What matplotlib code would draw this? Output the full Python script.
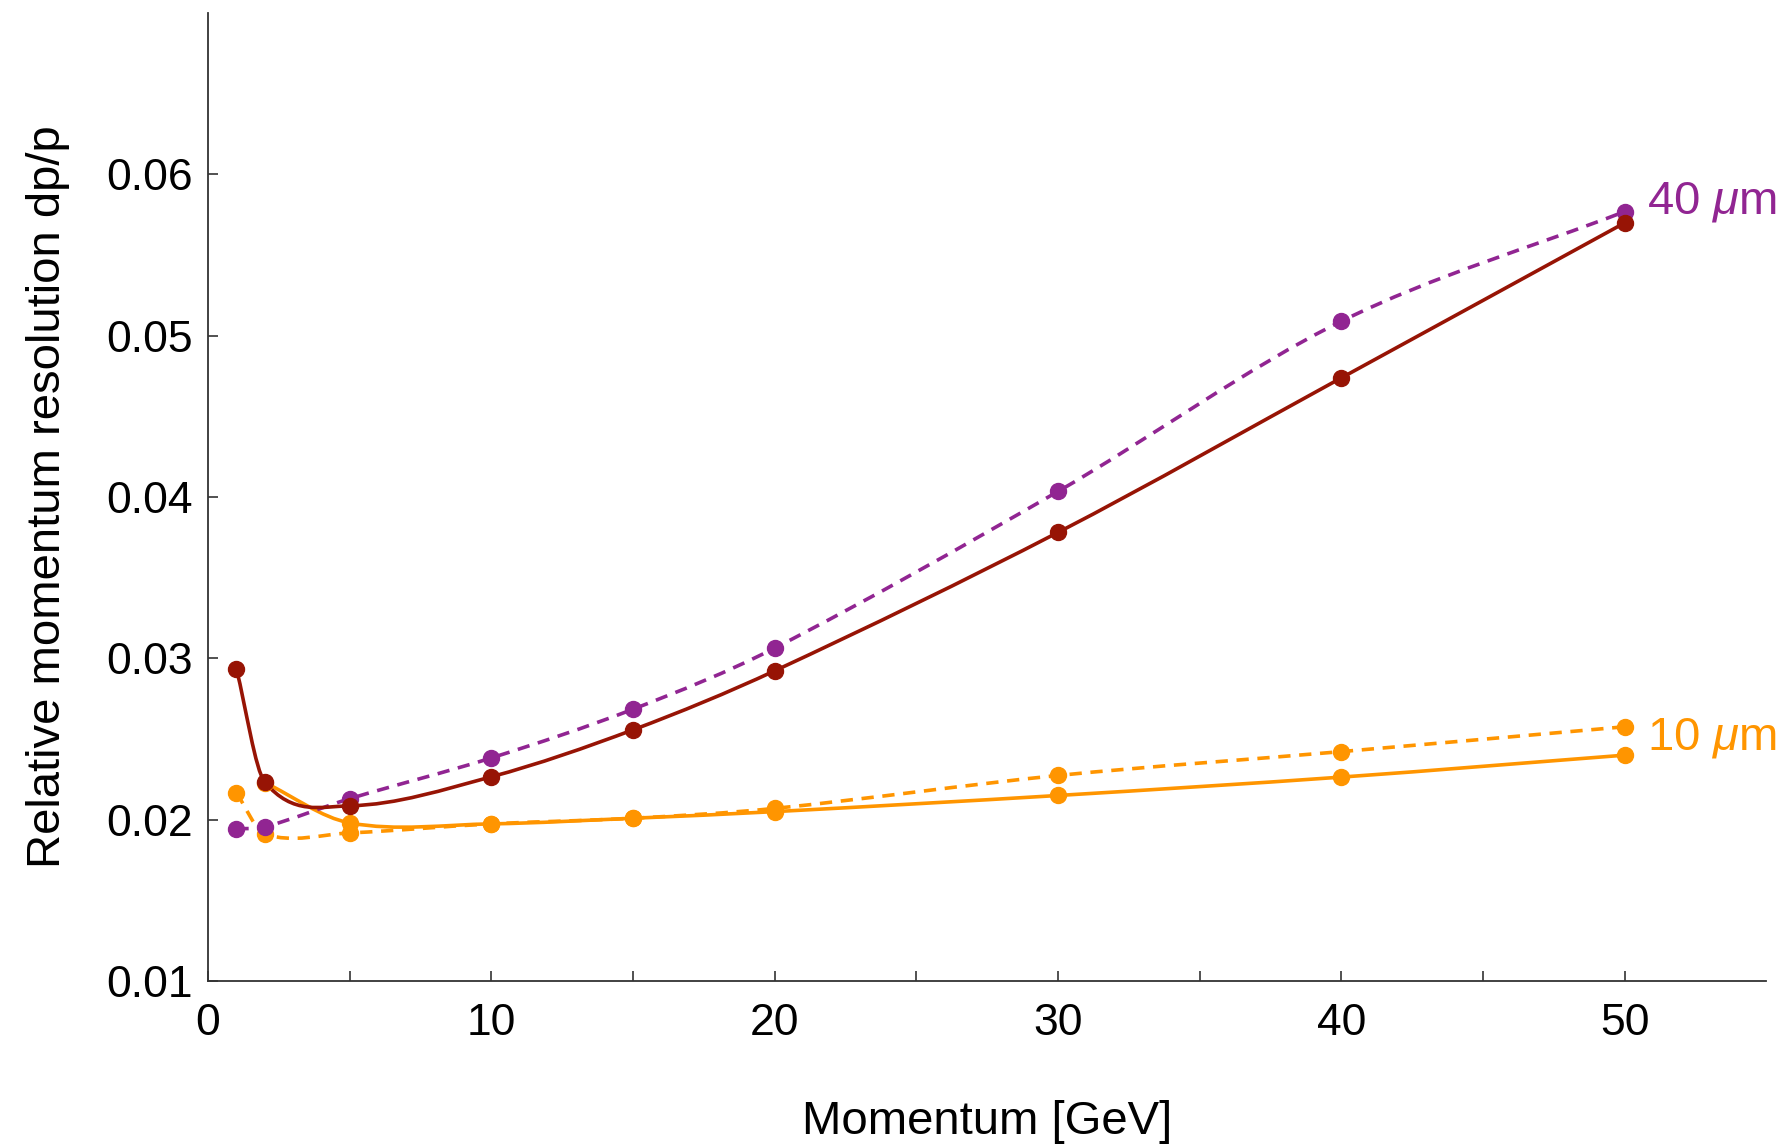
import numpy as np
import matplotlib
matplotlib.use('Agg')
import matplotlib.pyplot as plt
from matplotlib.path import Path
from matplotlib.patches import PathPatch

plt.rcParams['font.family'] = ['Liberation Sans', 'DejaVu Sans']
plt.rcParams['mathtext.fontset'] = 'custom'
plt.rcParams['mathtext.rm'] = 'Liberation Sans'
plt.rcParams['mathtext.it'] = 'Liberation Sans:italic'

# momentum points [GeV]
p_all = [1, 2, 5, 10, 15, 20, 30, 40, 50]
p_from2 = [2, 5, 10, 15, 20, 30, 40, 50]

# relative momentum resolution dp/p
res_40_solid = [0.02935, 0.02234, 0.02086, 0.02266, 0.02557, 0.02923, 0.03781, 0.04739, 0.0570]
res_40_dashed = [0.01943, 0.01955, 0.0213, 0.02383, 0.02685, 0.03064, 0.04035, 0.0509, 0.0577]
res_10_solid = [0.0223, 0.0198, 0.01974, 0.02009, 0.0205, 0.0215, 0.02264, 0.0240]
res_10_dashed = [0.02166, 0.01912, 0.01918, 0.01974, 0.02009, 0.0207, 0.02274, 0.02422, 0.02576]

c_red = '#971405'
c_purple = '#912592'
c_orange = '#ff9500'


def slopes(x, y):
    # catmull-rom style tangents (local, no overshoot wiggles)
    x = np.asarray(x, float)
    y = np.asarray(y, float)
    m = np.empty(len(x))
    m[1:-1] = (y[2:] - y[:-2]) / (x[2:] - x[:-2])
    m[0] = (y[1] - y[0]) / (x[1] - x[0])
    m[-1] = (y[-1] - y[-2]) / (x[-1] - x[-2])
    return m


def smooth_curve(ax, x, y, color, ls):
    # smooth Bezier path through the points
    m = slopes(x, y)
    verts = [(x[0], y[0])]
    codes = [Path.MOVETO]
    for i in range(len(x) - 1):
        h = x[i + 1] - x[i]
        verts += [(x[i] + h / 3, y[i] + m[i] * h / 3),
                  (x[i + 1] - h / 3, y[i + 1] - m[i + 1] * h / 3),
                  (x[i + 1], y[i + 1])]
        codes += [Path.CURVE4] * 3
    patch = PathPatch(Path(verts, codes), facecolor='none', edgecolor=color,
                      lw=2.6, linestyle=ls, capstyle='butt')
    ax.add_patch(patch)
    ax.plot(x, y, 'o', color=color, ms=11.5, zorder=3)


fig = plt.figure(figsize=(17.86, 11.44), dpi=100)
ax = fig.add_axes([0.1165, 0.1425, 0.8725, 0.846])

dash = (0, (3.4, 2.4))
smooth_curve(ax, p_all, res_10_dashed, c_orange, dash)
smooth_curve(ax, p_from2, res_10_solid, c_orange, '-')
smooth_curve(ax, p_all, res_40_dashed, c_purple, dash)
smooth_curve(ax, p_all, res_40_solid, c_red, '-')

ax.text(50.8, 0.0583, r'40 $\mathit{\mu}$m', color=c_purple, fontsize=34,
        va='center', ha='left')
ax.text(50.8, 0.02505, r'10 $\mathit{\mu}$m', color=c_orange, fontsize=34,
        va='center', ha='left')

ax.set_xlim(0, 55)
ax.set_ylim(0.01, 0.07)
ax.set_xticks([0, 10, 20, 30, 40, 50])
ax.set_xticks([5, 15, 25, 35, 45], minor=True)
ax.set_yticks([0.01, 0.02, 0.03, 0.04, 0.05, 0.06])
ax.set_yticklabels(['0.01', '0.02', '0.03', '0.04', '0.05', '0.06'])

for s in ['top', 'right']:
    ax.spines[s].set_visible(False)
for s in ['left', 'bottom']:
    ax.spines[s].set_linewidth(1.3)
    ax.spines[s].set_color('#333333')

ax.tick_params(axis='both', which='both', direction='in', length=7,
               width=1.2, color='#333333', labelsize=32)
ax.tick_params(axis='x', pad=16)
ax.tick_params(axis='y', pad=11)

ax.set_xlabel('Momentum [GeV]', fontsize=34, labelpad=40)
ax.set_ylabel('Relative momentum resolution dp/p', fontsize=34, labelpad=26)

fig.savefig('out.png', dpi=100)
